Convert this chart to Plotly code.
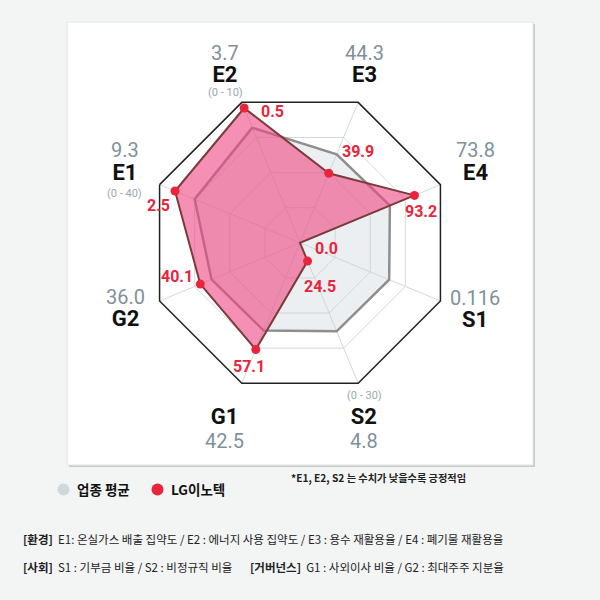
import plotly.graph_objects as go

# ---- data ----
axes = ["E2", "E3", "E4", "S1", "S2", "G1", "G2", "E1"]
avg_values = ["3.7", "44.3", "73.8", "0.116", "4.8", "42.5", "36.0", "9.3"]
lg_values = ["0.5", "39.9", "93.2", "0.0", "24.5", "57.1", "40.1", "2.5"]
ranges = {"E2": "(0 - 10)", "E1": "(0 - 40)", "S2": "(0 - 30)"}
# plotted scores (0-100 scale, as drawn)
avg_scores = [82, 63, 64, 63.5, 63, 62.5, 63, 75]
lg_scores = [96, 49.5, 81.5, 0, 13, 76, 71, 89]

W = H = 600
BG = "#f3f5f5"
GRAY_TXT = "#7f9199"
RED = "#e8253c"

fig = go.Figure()
fig.add_trace(go.Scatterpolar(
    r=avg_scores + [avg_scores[0]], theta=axes + [axes[0]],
    mode="lines", fill="toself", fillcolor="rgba(200,210,214,0.35)",
    line=dict(color="#8e8e8e", width=2.5), name="업종 평균", hoverinfo="skip"))
fig.add_trace(go.Scatterpolar(
    r=lg_scores + [lg_scores[0]], theta=axes + [axes[0]],
    mode="lines", fill="toself", fillcolor="rgba(238,70,130,0.6)",
    line=dict(color="#7b3b3b", width=2), name="LG이노텍", hoverinfo="skip"))
fig.add_trace(go.Scatterpolar(
    r=lg_scores, theta=axes, mode="markers",
    marker=dict(color=RED, size=9), showlegend=False, hoverinfo="skip"))

cx, cy, R = 300, 242.8, 152
dom_x = [(cx - R) / W, (cx + R) / W]
dom_y = [1 - (cy + R) / H, 1 - (cy - R) / H]

fig.update_layout(
    width=W, height=H, margin=dict(l=0, r=0, t=0, b=0),
    paper_bgcolor=BG, showlegend=False,
    polar=dict(
        domain=dict(x=dom_x, y=dom_y),
        bgcolor="white", gridshape="linear",
        radialaxis=dict(range=[0, 100], tickvals=[25, 50, 75], showticklabels=False,
                        ticks="", showline=False, gridcolor="#d3d9db", gridwidth=1),
        angularaxis=dict(rotation=112.5, direction="clockwise", showticklabels=False,
                         ticks="", showline=True, linecolor="#222222", linewidth=1.5,
                         gridcolor="#d3d9db", gridwidth=1),
    ),
)

# white panel with shadow
fig.add_shape(type="rect", xref="paper", yref="paper", x0=69/W, x1=535/W,
              y0=1-467/H, y1=1-24/H, fillcolor="#c8cccd", line=dict(width=0), layer="below")
fig.add_shape(type="rect", xref="paper", yref="paper", x0=67/W, x1=533/W,
              y0=1-465/H, y1=1-22/H, fillcolor="white", line=dict(color="#e2e5e6", width=1),
              layer="below")

def ann(x, y, text, size, color, bold=False, family="Roboto", xanchor="center"):
    fig.add_annotation(x=x / W, y=1 - y / H, xref="paper", yref="paper",
                       text=f"<b>{text}</b>" if bold else text, showarrow=False,
                       xanchor=xanchor, yanchor="middle",
                       font=dict(size=size, color=color, family=family))

# outer labels: (x, value y, name y, range y, value-first)
pos = {
    "E2": (225, 51.7, 73.5, 92.0, True),
    "E3": (364, 51.7, 73.5, None, True),
    "E4": (475, 148.3, 171.7, None, True),
    "S1": (475, 296.7, 318.3, None, True),
    "S2": (364, 439.3, 415, 395.5, False),
    "G1": (224.5, 439.3, 415, None, False),
    "G2": (125, 296.5, 318.3, None, True),
    "E1": (124.5, 148.3, 171.7, 193.0, True),
}
for i, a in enumerate(axes):
    x, yv, yn, yr, vfirst = pos[a]
    vtxt = f"<span style='font-size:20px;color:{GRAY_TXT}'>{avg_values[i]}</span>"
    ntxt = f"<span style='font-size:22px;color:#111111'><b>{a}</b></span>"
    txt = f"{vtxt}<br>{ntxt}" if vfirst else f"{ntxt}<br>{vtxt}"
    base = abs(yn - yv) / 1.3
    ann(x, (yv + yn) / 2 + 1, txt, base, "#111111")
    if yr is not None:
        ann(x, yr, ranges[a], 11, "#9aa8ad")

# LG value labels
red_pos = {
    "E2": (272.7, 111.7), "E3": (357.7, 151.7), "E4": (421, 211.7), "S1": (326.7, 248.3),
    "S2": (320, 286), "G1": (249.3, 366), "G2": (176.7, 276.7), "E1": (158.3, 205),
}
for i, a in enumerate(axes):
    x, y = red_pos[a]
    ann(x, y, lg_values[i], 16, RED, bold=True)

# legend
KR = "Noto Sans CJK KR"
fig.add_shape(type="circle", xref="paper", yref="paper", x0=57.5/W, x1=69.5/W,
              y0=1-495.5/H, y1=1-483.5/H, fillcolor="#cfd8dc", line=dict(width=0))
fig.add_shape(type="circle", xref="paper", yref="paper", x0=151.5/W, x1=163.5/W,
              y0=1-495.5/H, y1=1-483.5/H, fillcolor=RED, line=dict(width=0))
ann(75, 489, "업종 평균", 13.5, "#111111", bold=True, family=KR, xanchor="left")
ann(169, 489, "LG이노텍", 13.5, "#111111", bold=True, family=KR, xanchor="left")
ann(289, 477.5, "*E1, E2, S2 는 수치가 낮을수록 긍정적임", 10.2, "#222222", bold=True,
    family=KR, xanchor="left")

ann(20.5, 539, "<b>[환경]</b>  E1: 온실가스 배출 집약도 / E2 : 에너지 사용 집약도 / E3 : 용수 재활용율 / E4 : 폐기물 재활용율",
    11.5, "#222222", family=KR, xanchor="left")
ann(20.5, 566.7, "<b>[사회]</b>  S1 : 기부금 비율 / S2 : 비정규직 비율", 11.5, "#222222",
    family=KR, xanchor="left")
ann(248, 566.7, "<b>[거버넌스]</b>  G1 : 사외이사 비율 / G2 : 최대주주 지분율", 11.5, "#222222",
    family=KR, xanchor="left")

fig.write_html("out.html", config={"displayModeBar": False},
               post_script="document.body.style.margin='0';")
